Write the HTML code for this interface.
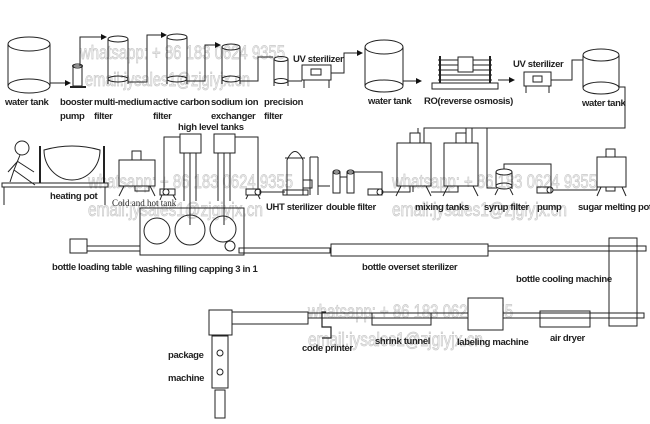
<!DOCTYPE html>
<html><head><meta charset="utf-8"><style>
html,body{margin:0;padding:0;background:#fff;}
svg{display:block;}
text{font-family:"Liberation Sans",Arial,sans-serif;font-weight:bold;font-size:9.5px;fill:#222;letter-spacing:-0.35px;}
.wm text{font-weight:normal;font-size:19px;fill:#f0f0f0;stroke:#c8c8c8;stroke-width:0.7;letter-spacing:0;}
</style></head><body>
<svg width="650" height="424" viewBox="0 0 650 424" xmlns="http://www.w3.org/2000/svg">
<defs><marker id="a" markerWidth="6" markerHeight="6" refX="5" refY="3" orient="auto"><path d="M0,0 L6,3 L0,6 z" fill="#111"/></marker></defs>
<g class="wm">
<text x="80" y="59" textLength="205" lengthAdjust="spacingAndGlyphs">whatsapp: + 86 183 0624 9355</text>
<text x="85" y="86" textLength="165" lengthAdjust="spacingAndGlyphs">email:jysales1@zjgiyjx.cn</text>
<text x="88" y="188" textLength="205" lengthAdjust="spacingAndGlyphs">whatsapp: + 86 183 0624 9355</text>
<text x="88" y="216" textLength="175" lengthAdjust="spacingAndGlyphs">email:jysales1@zjgiyjx.cn</text>
<text x="392" y="188" textLength="205" lengthAdjust="spacingAndGlyphs">whatsapp: + 86 183 0624 9355</text>
<text x="392" y="216" textLength="175" lengthAdjust="spacingAndGlyphs">email:jysales1@zjgiyjx.cn</text>
<text x="308" y="318" textLength="205" lengthAdjust="spacingAndGlyphs">whatsapp: + 86 183 0624 9355</text>
<text x="308" y="346" textLength="175" lengthAdjust="spacingAndGlyphs">email:jysales1@zjgiyjx.cn</text>
</g>
<g fill="none" stroke="#222" stroke-width="1">
<ellipse cx="29" cy="44" rx="21" ry="7"/><ellipse cx="29" cy="86" rx="21" ry="7"/>
<line x1="8" y1="44" x2="8" y2="86"/><line x1="50" y1="44" x2="50" y2="86"/>
<polyline points="50,83 70,83" marker-end="url(#a)"/>
<rect x="73" y="66" width="9" height="20"/><ellipse cx="77.5" cy="66" rx="5" ry="2"/><line x1="70" y1="87" x2="86" y2="87" stroke-width="2"/>
<polyline points="80,66 80,37 106,37" marker-end="url(#a)"/>
<ellipse cx="118" cy="39" rx="10" ry="3"/><ellipse cx="118" cy="79" rx="10" ry="3"/><line x1="108" y1="39" x2="108" y2="84"/><line x1="128" y1="39" x2="128" y2="84"/>
<polyline points="128,82 147,82 147,35 166,35" marker-end="url(#a)"/>
<ellipse cx="177" cy="37" rx="10" ry="3"/><ellipse cx="177" cy="79" rx="10" ry="3"/><line x1="167" y1="37" x2="167" y2="84"/><line x1="187" y1="37" x2="187" y2="84"/>
<polyline points="187,81 205,81 205,45 220,45" marker-end="url(#a)"/>
<ellipse cx="231" cy="47" rx="9" ry="3"/><ellipse cx="231" cy="79" rx="9" ry="3"/><line x1="222" y1="47" x2="222" y2="84"/><line x1="240" y1="47" x2="240" y2="84"/>
<polyline points="240,81 258,81 258,57 273,57"/>
<ellipse cx="281" cy="59" rx="7" ry="2.5"/><ellipse cx="281" cy="81" rx="7" ry="2.5"/><line x1="274" y1="59" x2="274" y2="86"/><line x1="288" y1="59" x2="288" y2="86"/>
<polyline points="288,81 302,81"/>
<rect x="302" y="65" width="29" height="15"/><rect x="311" y="69" width="10" height="6"/><line x1="304" y1="80" x2="304" y2="88"/><line x1="329" y1="80" x2="329" y2="88"/>
<polyline points="331,73 344,73 344,53 362,53" marker-end="url(#a)"/>
<ellipse cx="384" cy="47" rx="19" ry="7"/><ellipse cx="384" cy="86" rx="19" ry="6"/><line x1="365" y1="47" x2="365" y2="86"/><line x1="403" y1="47" x2="403" y2="86"/>
<polyline points="403,81 421,81" marker-end="url(#a)"/>
<rect x="432" y="83" width="66" height="6"/>
<line x1="438" y1="60" x2="492" y2="60"/><line x1="438" y1="65" x2="492" y2="65"/><line x1="438" y1="70" x2="492" y2="70"/><line x1="438" y1="75" x2="492" y2="75"/><line x1="438" y1="80" x2="492" y2="80"/>
<line x1="440" y1="56" x2="440" y2="83" stroke-width="2"/><line x1="490" y1="56" x2="490" y2="83" stroke-width="2"/>
<rect x="458" y="57" width="15" height="15" fill="#fff"/>
<polyline points="498,80 514,80" marker-end="url(#a)"/>
<rect x="524" y="72" width="27" height="14"/><rect x="533" y="76" width="9" height="6"/><line x1="526" y1="86" x2="526" y2="93"/><line x1="549" y1="86" x2="549" y2="93"/>
<polyline points="551,80 572,80 572,60 583,60"/>
<ellipse cx="601" cy="55" rx="18" ry="6"/><ellipse cx="601" cy="88" rx="18" ry="6"/><line x1="583" y1="55" x2="583" y2="88"/><line x1="619" y1="55" x2="619" y2="88"/>
<polyline points="619,87 625,87 625,128 424,128 424,143"/>
<line x1="472" y1="128" x2="472" y2="143"/><polyline points="487,128 487,188 495,188"/>
<circle cx="22" cy="148" r="7"/><polyline points="20,155 14,170 35,185"/><polyline points="17,162 8,172"/><polyline points="17,161 34,172"/><polyline points="14,170 10,182"/>
<rect x="2" y="183" width="106" height="4"/><line x1="4" y1="187" x2="4" y2="205"/><line x1="105" y1="187" x2="105" y2="205"/>
<line x1="40" y1="146" x2="40" y2="183" stroke-width="2"/><line x1="104" y1="146" x2="104" y2="183" stroke-width="2"/>
<path d="M44,150 Q72,142 100,150 A28,30 0 0 1 44,150 Z"/>
<rect x="119" y="160" width="36" height="26"/><rect x="132" y="151" width="9" height="9"/><line x1="124" y1="186" x2="119" y2="196"/><line x1="150" y1="186" x2="155" y2="196"/><rect x="135" y="186" width="14" height="5"/>
<rect x="160" y="189" width="15" height="6"/><circle cx="166" cy="192" r="3"/><line x1="162" y1="195" x2="160" y2="200"/><line x1="173" y1="195" x2="176" y2="200"/>
<polyline points="164,189 164,137 180,137"/>
<rect x="180" y="134" width="21" height="19"/><rect x="214" y="134" width="21" height="19"/>
<line x1="184" y1="153" x2="184" y2="201"/><line x1="190" y1="153" x2="190" y2="225"/><line x1="196" y1="153" x2="196" y2="201"/>
<line x1="218" y1="153" x2="218" y2="201"/><line x1="224" y1="153" x2="224" y2="225"/><line x1="230" y1="153" x2="230" y2="201"/>
<polyline points="235,137 258,137 258,190"/>
<rect x="246" y="189" width="14" height="6"/><circle cx="258" cy="192" r="3"/><line x1="248" y1="195" x2="246" y2="199"/><line x1="258" y1="195" x2="260" y2="199"/>
<polyline points="261,192 285,192"/>
<path d="M287,195 L287,160 Q295,143 303,160 L303,195 Z"/><line x1="285" y1="158" x2="305" y2="158"/><rect x="283" y="190" width="25" height="5"/>
<line x1="310" y1="157" x2="310" y2="195"/><line x1="318" y1="157" x2="318" y2="195"/><line x1="310" y1="157" x2="318" y2="157"/><rect x="303" y="180" width="9" height="8"/>
<polyline points="318,186 330,186"/>
<rect x="333" y="172" width="7" height="21"/><rect x="347" y="172" width="7" height="21"/><ellipse cx="336.5" cy="172" rx="3.5" ry="2"/><ellipse cx="350.5" cy="172" rx="3.5" ry="2"/>
<polyline points="340,177 347,177"/><polyline points="354,172 382,172 382,190"/>
<rect x="368" y="189" width="14" height="6"/><circle cx="380" cy="192" r="3"/>
<polyline points="383,192 410,192 410,186"/>
<rect x="397" y="143" width="34" height="43"/><rect x="410" y="133" width="10" height="10"/><line x1="401" y1="186" x2="396" y2="196"/><line x1="426" y1="186" x2="431" y2="196"/><line x1="413" y1="186" x2="413" y2="192"/>
<line x1="418" y1="133" x2="418" y2="128"/>
<rect x="444" y="143" width="34" height="43"/><rect x="456" y="133" width="10" height="10"/><line x1="448" y1="186" x2="443" y2="196"/><line x1="473" y1="186" x2="478" y2="196"/><polyline points="431,192 458,192 458,186"/>
<polyline points="466,133 466,128"/>
<ellipse cx="504" cy="172" rx="8" ry="3"/><line x1="496" y1="172" x2="496" y2="189"/><line x1="512" y1="172" x2="512" y2="189"/><ellipse cx="504" cy="186" rx="8" ry="3"/><line x1="498" y1="189" x2="495" y2="195"/><line x1="510" y1="189" x2="513" y2="195"/>
<polyline points="504,169 504,164 551,164 551,188"/>
<rect x="537" y="187" width="14" height="6"/><circle cx="550" cy="190" r="3"/>
<polyline points="553,190 597,190 597,180"/>
<rect x="597" y="157" width="29" height="30"/><rect x="606" y="149" width="9" height="8"/><line x1="601" y1="187" x2="597" y2="196"/><line x1="622" y1="187" x2="626" y2="196"/><rect x="606" y="187" width="9" height="4"/>
<rect x="140" y="208" width="104" height="47"/>
<circle cx="157" cy="231" r="13"/><circle cx="190" cy="230" r="15"/><circle cx="223" cy="229" r="13"/><circle cx="230" cy="246" r="5"/>
<rect x="70" y="239" width="17" height="14"/><rect x="87" y="246" width="53" height="5"/>
<rect x="239" y="248" width="91" height="5"/>
<rect x="331" y="244" width="157" height="12"/>
<rect x="488" y="246" width="158" height="5"/>
<rect x="609" y="238" width="28" height="88"/>
<rect x="209" y="310" width="23" height="25"/>
<rect x="232" y="312" width="76" height="12"/>
<rect x="308" y="313" width="336" height="5"/>
<polyline points="326,312 322,312 322,327 331,327 331,338 322,338" stroke-width="1.2"/>
<rect x="372" y="313" width="59" height="12"/>
<rect x="468" y="298" width="35" height="32" fill="#fff"/>
<rect x="540" y="311" width="50" height="16"/>
<rect x="212" y="336" width="16" height="52"/><circle cx="220" cy="353" r="3"/><circle cx="220" cy="372" r="3"/>
<rect x="215" y="390" width="10" height="28"/>
</g>
<g>
<text x="5" y="105">water tank</text>
<text x="60" y="105">booster</text><text x="60" y="119">pump</text>
<text x="94" y="105">multi-medium</text><text x="94" y="119">filter</text>
<text x="153" y="105">active carbon</text><text x="153" y="119">filter</text>
<text x="211" y="105">sodium ion</text><text x="211" y="119">exchanger</text>
<text x="264" y="105">precision</text><text x="264" y="119">filter</text>
<text x="293" y="62">UV sterilizer</text>
<text x="368" y="104">water tank</text>
<text x="424" y="104">RO(reverse osmosis)</text>
<text x="513" y="67">UV sterilizer</text>
<text x="582" y="106">water tank</text>
<text x="178" y="130">high level tanks</text>
<text x="50" y="199">heating pot</text>
<text x="112" y="206" style="font-family:'Liberation Serif',serif;font-weight:normal;font-size:9px;letter-spacing:0">Cold and hot tank</text>
<text x="266" y="210">UHT sterilizer</text>
<text x="326" y="210">double filter</text>
<text x="415" y="210">mixing tanks</text>
<text x="484" y="210">syrup filter</text>
<text x="537" y="210">pump</text>
<text x="578" y="210">sugar melting pot</text>
<text x="52" y="270">bottle loading table</text>
<text x="136" y="272">washing filling capping 3 in 1</text>
<text x="362" y="270">bottle overset sterilizer</text>
<text x="516" y="282">bottle cooling machine</text>
<text x="168" y="358">package</text>
<text x="168" y="381">machine</text>
<text x="302" y="351">code printer</text>
<text x="375" y="344">shrink tunnel</text>
<text x="457" y="345">labeling machine</text>
<text x="550" y="341">air dryer</text>
</g>
</svg>
</body></html>
